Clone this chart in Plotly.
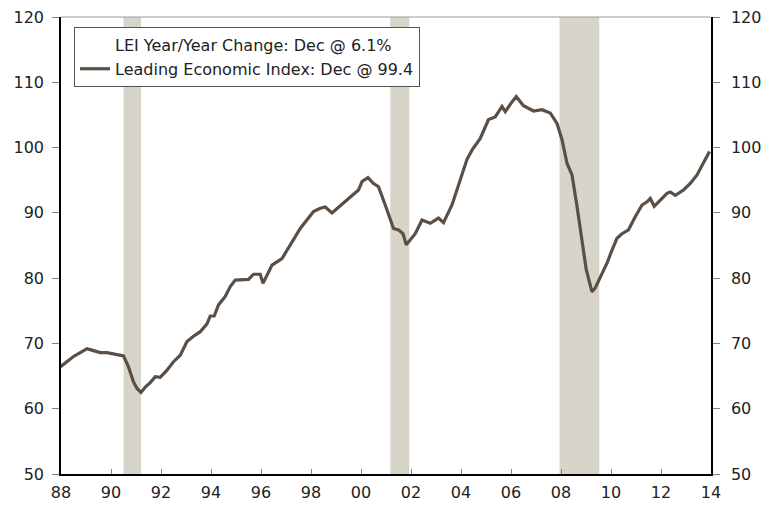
import plotly.graph_objects as go

# LEI data (decimal year, index level)
years = [1987.97, 1988.24, 1988.5, 1988.77, 1989.04, 1989.3, 1989.57, 1989.84, 1990.1, 1990.5,
         1990.7, 1990.9, 1991.04, 1991.2, 1991.37, 1991.57, 1991.77, 1991.97, 1992.24, 1992.5,
         1992.77, 1993.04, 1993.3, 1993.57, 1993.84, 1993.97, 1994.13, 1994.3, 1994.57, 1994.77,
         1994.97, 1995.5, 1995.7, 1995.97, 1996.08, 1996.44, 1996.84, 1997.17, 1997.57, 1998.1,
         1998.37, 1998.57, 1998.84, 1999.17, 1999.64, 1999.9, 2000.04, 2000.28, 2000.5, 2000.7,
         2000.97, 2001.14, 2001.3, 2001.5, 2001.68, 2001.81, 2001.97, 2002.17, 2002.44, 2002.77,
         2003.1, 2003.3, 2003.64, 2003.97, 2004.24, 2004.44, 2004.77, 2005.1, 2005.37, 2005.64,
         2005.77, 2006.04, 2006.21, 2006.5, 2006.9, 2007.24, 2007.57, 2007.84, 2008.04, 2008.24,
         2008.44, 2008.64, 2008.84, 2009.01, 2009.24, 2009.37, 2009.64, 2009.84, 2010.04, 2010.24,
         2010.44, 2010.7, 2010.97, 2011.24, 2011.44, 2011.57, 2011.73, 2011.97, 2012.24, 2012.37,
         2012.57, 2012.9, 2013.17, 2013.44, 2013.7, 2013.94]
lei = [66.4, 67.2, 68.0, 68.6, 69.2, 68.9, 68.6, 68.6, 68.4, 68.1,
       66.4, 64.1, 63.1, 62.5, 63.3, 64.0, 64.9, 64.8, 65.9, 67.2,
       68.2, 70.3, 71.1, 71.8, 73.0, 74.2, 74.2, 75.9, 77.2, 78.7,
       79.7, 79.8, 80.6, 80.6, 79.2, 82.0, 83.0, 85.1, 87.6, 90.2,
       90.7, 90.9, 90.0, 91.1, 92.6, 93.5, 94.8, 95.4, 94.5, 94.0,
       91.2, 89.2, 87.6, 87.4, 86.8, 85.1, 85.9, 86.8, 88.9, 88.4,
       89.2, 88.5, 91.2, 95.0, 98.2, 99.6, 101.4, 104.3, 104.7, 106.3,
       105.5, 107.0, 107.8, 106.4, 105.6, 105.8, 105.3, 103.7, 101.2, 97.6,
       95.8, 91.0, 85.9, 81.3, 77.9, 78.5, 80.7, 82.3, 84.3, 86.1,
       86.8, 87.4, 89.4, 91.2, 91.7, 92.2, 91.0, 92.0, 93.0, 93.2,
       92.7, 93.5, 94.5, 95.8, 97.8, 99.4]

recession_start = [1990.5, 2001.17, 2007.94]
recession_end = [1991.2, 2001.93, 2009.53]

tick_years = list(range(1988, 2015, 2))
tick_labels = ["88", "90", "92", "94", "96", "98", "00", "02", "04", "06", "08", "10", "12", "14"]

series_names = ["LEI Year/Year Change: Dec @ 6.1%", "Leading Economic Index: Dec @ 99.4"]

LINE = "#5b4f45"
BAND = "#d7d4c9"
FONT = "DejaVu Sans"
FS = 16

fig = go.Figure()
fig.add_trace(go.Scatter(x=[None], y=[None], mode="lines", name=series_names[0],
                         line=dict(color="rgba(0,0,0,0)", width=3), yaxis="y2"))
fig.add_trace(go.Scatter(x=years, y=lei, mode="lines", name=series_names[1],
                         line=dict(color=LINE, width=3.2)))

shapes = []
for s, e in zip(recession_start, recession_end):
    shapes.append(dict(type="rect", xref="x", yref="paper", x0=s, x1=e, y0=0, y1=1,
                       fillcolor=BAND, line=dict(width=0), layer="below"))
shapes.append(dict(type="line", xref="paper", yref="paper", x0=0, x1=1, y0=1, y1=1,
                   line=dict(color="#9a9a9a", width=1)))

yrange = [50, 120]
tickfont = dict(family=FONT, size=FS, color="#222222")

# the page adds an 8px body margin, so the figure is offset to compensate
fig.update_layout(
    width=770, height=498,
    margin=dict(l=53, r=67, t=9, b=32),
    paper_bgcolor="white", plot_bgcolor="white",
    font=dict(family=FONT, size=FS, color="#222222"),
    showlegend=True,
    legend=dict(x=0.02, y=0.978, xanchor="left", yanchor="top",
                bgcolor="white", bordercolor="#555555", borderwidth=1,
                font=dict(family=FONT, size=16, color="#222222"),
                itemwidth=30, tracegroupgap=0),
    shapes=shapes,
    xaxis=dict(range=[1988, 2014], tickvals=tick_years, ticktext=tick_labels,
               ticks="inside", ticklen=5, tickcolor="#808080", tickwidth=1,
               showline=True, linecolor="black", linewidth=1.5, automargin=False,
               ticklabeloverflow="allow",
               showgrid=False, zeroline=False, tickfont=tickfont, ticklabelstandoff=3),
    yaxis=dict(range=yrange, dtick=10, ticks="outside", ticklen=7, tickcolor="#808080",
               showline=True, linecolor="black", linewidth=1.5, automargin=False,
               ticklabeloverflow="allow",
               showgrid=False, zeroline=False, tickfont=tickfont, ticklabelstandoff=5),
    yaxis2=dict(range=yrange, dtick=10, overlaying="y", side="right", anchor="x",
                ticks="outside", ticklen=7, tickcolor="#808080", automargin=False,
                ticklabeloverflow="allow",
                showline=True, linecolor="black", linewidth=1.5,
                showgrid=False, zeroline=False, tickfont=tickfont, ticklabelstandoff=8),
    yaxis3=dict(range=yrange, dtick=10, overlaying="y", side="left", anchor="x",
                ticks="inside", ticklen=7, tickcolor="#808080", showticklabels=False,
                automargin=False, showline=False, showgrid=False, zeroline=False),
    yaxis4=dict(range=yrange, dtick=10, overlaying="y", side="right", anchor="x",
                ticks="inside", ticklen=7, tickcolor="#808080", showticklabels=False,
                automargin=False, showline=False, showgrid=False, zeroline=False),
)

fig.write_html("out.html")
